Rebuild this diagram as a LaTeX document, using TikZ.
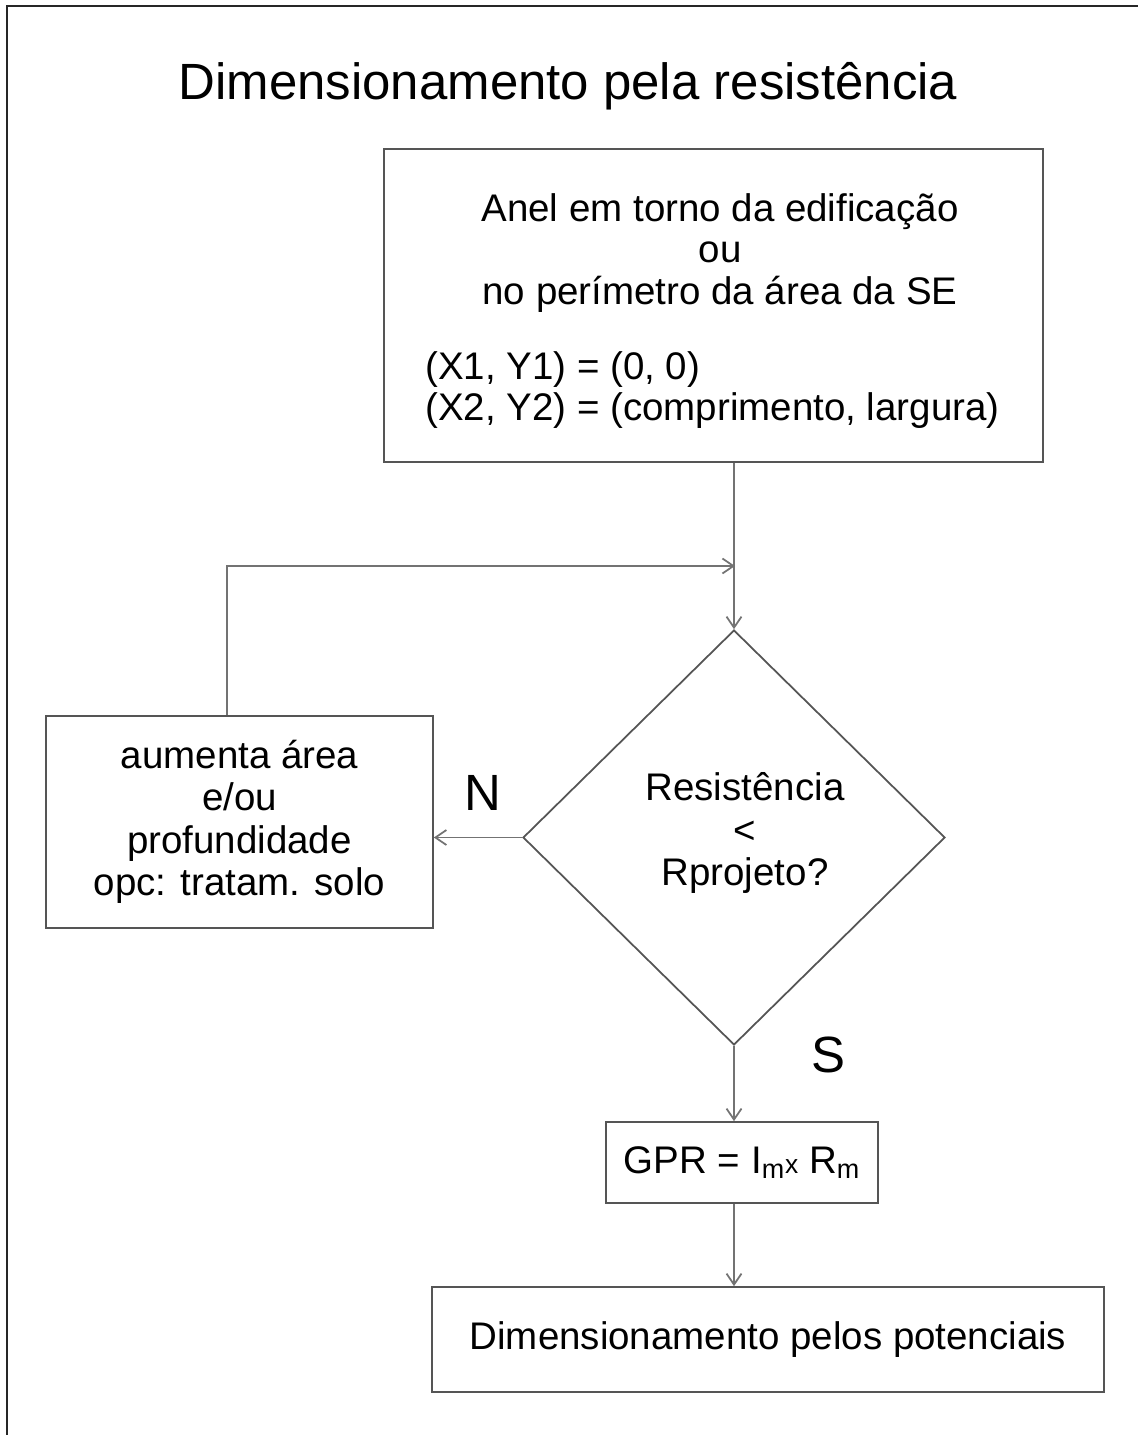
\documentclass[tikz,border=0pt]{standalone}
\usepackage{fontspec}
\setmainfont{Liberation Sans}
\usetikzlibrary{shapes.geometric,arrows.meta}
\definecolor{edgegray}{RGB}{115,115,115}
\definecolor{boxgray}{RGB}{85,85,85}

\begin{document}
\begin{tikzpicture}[x=0.02cm, y=-0.02cm,
    >={Straight Barb[length=2.2mm,width=3mm]},
    box/.style={draw=boxgray, line width=1pt, rectangle, inner sep=0pt,
      font=\fontsize{21.9}{24.2}\selectfont, align=center},
    dec/.style={draw=boxgray, line width=1pt, diamond, inner sep=0pt,
      minimum width=8.44cm, minimum height=8.3cm},
    txt/.style={font=\fontsize{21.9}{23.5}\selectfont, align=center, inner sep=0pt},
    edge/.style={->, draw=edgegray, line width=1pt}]

  \useasboundingbox (0,0) rectangle (1137,1435);
  \draw[line width=1.5pt, black!85] (7,1440) -- (7,6) -- (1140,6);

  \node[font=\fontsize{29}{34}\selectfont, anchor=base] (title) at (568,100) {Dimensionamento pela resistência};

  % top box
  \node[box, minimum width=13.18cm, minimum height=6.26cm] (ring) at (713.5,305.5) {};
  \node[txt] (ringtxt) at (720,253) {Anel em torno da edificação\\ou\\no perímetro da área da SE};
  \node[txt, align=left, anchor=west] (coords) at (425,390) {(X1, Y1) = (0, 0)\\(X2, Y2) = (comprimento, largura)};

  \node[dec] (test) at (734,837.5) {};
  \node[txt, font=\fontsize{21.9}{24.2}\selectfont] (testtxt) at (745,833) {Resistência\\<\\Rprojeto?};
  \node[box, minimum width=7.74cm, minimum height=4.24cm] (more) at (239.5,822)
    {aumenta área\\e/ou\\profundidade\\opc: tratam. solo};
  \node[box, minimum width=5.44cm, minimum height=1.62cm] (gpr) at (742,1162.5)
    {GPR = I\textsubscript{m}{\fontsize{15}{15}\selectfont x} R\textsubscript{m}};
  \node[box, minimum width=13.44cm, minimum height=2.1cm] (final) at (768,1339.5)
    {Dimensionamento pelos potenciais};

  \node[txt, font=\fontsize{29}{34}\selectfont] (no) at (483,793) {N};
  \node[txt, font=\fontsize{29}{34}\selectfont] (yes) at (828,1055) {S};

  \coordinate (join) at (735,566);
  \draw[edge] (ring.south -| test.north) -- (test.north);
  \draw[edge] ([xshift=-0.25cm]more.north) |- (join);
  \draw[edge] (test.west) -- (test.west -| more.east);
  \draw[edge] (test.south) -- (test.south |- gpr.north);
  \draw[edge] (gpr.south -| test.south) -- (final.north -| test.south);
\end{tikzpicture}
\end{document}
